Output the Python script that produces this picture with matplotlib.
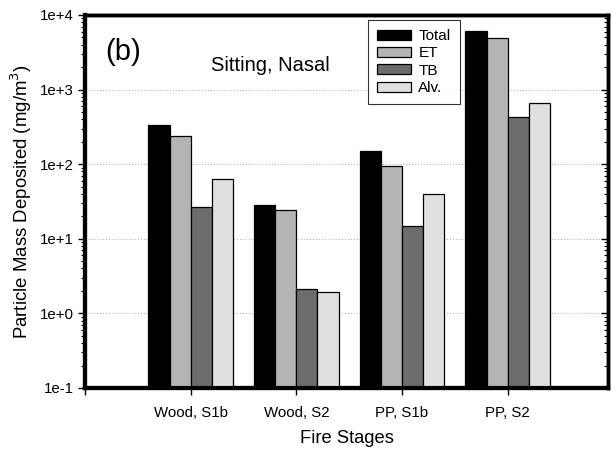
import numpy as np
import matplotlib.pyplot as plt
from matplotlib.ticker import LogLocator, FixedFormatter, FixedLocator, NullFormatter

plt.rcParams['font.family'] = ['Liberation Sans', 'DejaVu Sans']

stages = ['Wood, S1b', 'Wood, S2', 'PP, S1b', 'PP, S2']
regions = ['Total', 'ET', 'TB', 'Alv.']
total = [335, 28.1, 152, 6170]
et = [241, 24.1, 95.5, 4960]
tb = [26.7, 2.0, 14.9, 433]
alv = [62.7, 1.82, 39.5, 655]
ytick_labels = ['1e-1', '1e+0', '1e+1', '1e+2', '1e+3', '1e+4']

series = [total, et, tb, alv]
colors = ['#000000', '#b4b4b4', '#6c6c6c', '#e0e0e0']
decades = [1e-1, 1e0, 1e1, 1e2, 1e3, 1e4]

fig = plt.figure(figsize=(6.13, 4.49), dpi=100)
ax = fig.add_axes([0.1387, 0.1359, 0.8533, 0.8307])

x = np.arange(1, len(stages) + 1)
width = 0.2
offsets = [-0.3, -0.1, 0.1, 0.3]
for vals, col, off, lab in zip(series, colors, offsets, regions):
    ax.bar(x + off, vals, width, bottom=0.1, color=col, edgecolor='black',
           linewidth=0.9, label=lab, zorder=3)

ax.set_yscale('log')
ax.set_ylim(0.1, 1e4)
ax.set_xlim(0, 4.95)

ax.yaxis.set_major_locator(FixedLocator(decades))
ax.yaxis.set_major_formatter(FixedFormatter(ytick_labels))
ax.yaxis.set_minor_locator(LogLocator(base=10, subs=np.arange(2, 10)))
ax.yaxis.set_minor_formatter(NullFormatter())
ax.set_xticks(x)
ax.set_xticklabels(stages)
ax.set_xticks([0], minor=True)

ax.tick_params(axis='y', which='major', direction='out', length=5, width=1,
               labelsize=10.8, pad=3)
ax.tick_params(axis='y', which='minor', direction='out', length=3, width=0.8)
ax.tick_params(axis='x', which='both', direction='out', length=5, width=1,
               labelsize=10.8, pad=8)

# right side: inward ticks, no labels
ax2 = ax.twinx()
ax2.set_yscale('log')
ax2.set_ylim(ax.get_ylim())
ax2.yaxis.set_major_locator(FixedLocator(decades))
ax2.yaxis.set_minor_locator(LogLocator(base=10, subs=np.arange(2, 10)))
ax2.yaxis.set_major_formatter(NullFormatter())
ax2.yaxis.set_minor_formatter(NullFormatter())
ax2.tick_params(axis='y', which='major', direction='in', length=5, width=1)
ax2.tick_params(axis='y', which='minor', direction='in', length=3, width=0.8)

ax.grid(axis='y', which='major', linestyle=(0, (1, 2)), color='#aaaaaa',
        linewidth=0.7, zorder=0)

for a in (ax, ax2):
    for side in ['left', 'bottom', 'top', 'right']:
        a.spines[side].set_linewidth(2.5)
    a.spines['left'].set_linewidth(3)
    a.spines['bottom'].set_linewidth(3)

ax.set_ylabel('Particle Mass Deposited (mg/m$^3$)', fontsize=13.4, labelpad=4)
ax.set_xlabel('Fire Stages', fontsize=13.2, labelpad=7)

ax.text(0.038, 0.9, '(b)', transform=ax.transAxes, fontsize=21, va='center')
ax.text(0.24, 0.865, 'Sitting, Nasal', transform=ax.transAxes, fontsize=14.5,
        va='center')

leg = ax.legend(loc='upper left', bbox_to_anchor=(0.541, 0.987), fontsize=11,
                frameon=True, fancybox=False, edgecolor='black',
                handlelength=2.2, handleheight=0.65, labelspacing=0.22,
                borderpad=0.6, handletextpad=0.5, borderaxespad=0)
leg.get_frame().set_linewidth(0.8)
leg.set_zorder(5)

fig.savefig('out.png', dpi=100)
